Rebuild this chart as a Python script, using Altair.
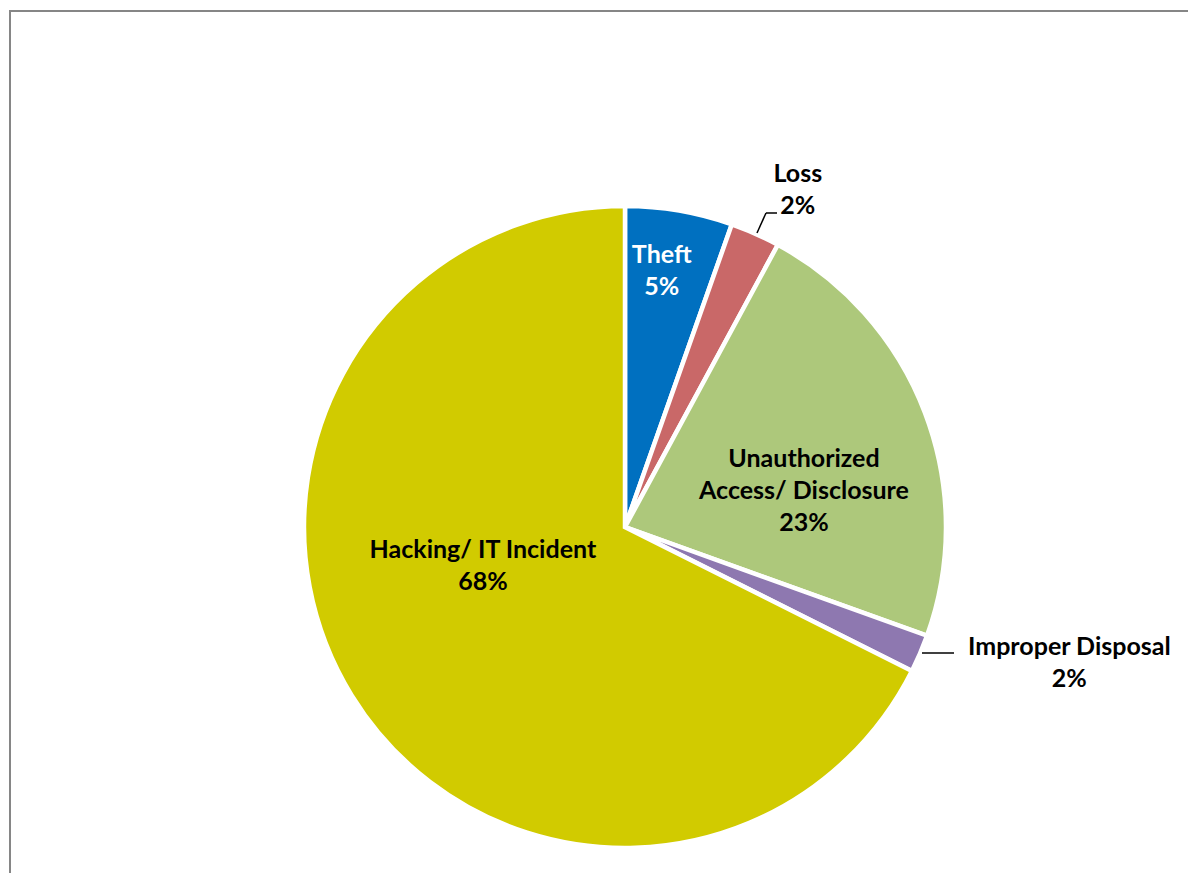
import altair as alt
import pandas as pd

categories = ["Theft", "Loss", "Unauthorized Access/ Disclosure", "Improper Disposal", "Hacking/ IT Incident"]
values = [5.4, 2.5, 22.6, 1.9, 67.6]
labels = ["Theft\n5%", "Loss\n2%", "Unauthorized\nAccess/ Disclosure\n23%", "Improper Disposal\n2%", "Hacking/ IT Incident\n68%"]
colors = ["#0070C0", "#C96868", "#ADC87B", "#8E78B0", "#D1CB00"]
label_colors = ["white", "black", "black", "black", "black"]

df = pd.DataFrame({
    "category": categories,
    "value": values,
    "label": labels,
    "idx": list(range(len(categories))),
})

W, H = 1180, 865
CX, CY = 617, 519
FONT = "Lato"

theta_scale = alt.Scale(domain=[0, 100])

pie = alt.Chart(df).mark_arc(outerRadius=321, stroke="white", strokeWidth=4.5).encode(
    theta=alt.Theta("value:Q", stack=True, scale=theta_scale),
    color=alt.Color("category:N", scale=alt.Scale(domain=categories, range=colors), legend=None),
    order=alt.Order("idx:Q"),
    x=alt.value(CX),
    y=alt.value(CY),
)

base_text = alt.Chart(df).transform_window(
    cum="sum(value)", sort=[alt.SortField("idx")]
).transform_calculate(
    mid="datum.cum - datum.value / 2"
)

# per-label placement: (radius, dx, dy)
placements = {
    "Theft": (259, -7, -17),
    "Loss": (379, 19, -7),
    "Unauthorized Access/ Disclosure": (183, 8, -3),
    "Improper Disposal": (465, 17, -63),
    "Hacking/ IT Incident": (147, -17, -54),
}

text_layers = []
for cat, col in zip(categories, label_colors):
    r, dx, dy = placements[cat]
    t = base_text.transform_filter(alt.datum.category == cat).mark_text(
        radius=r, dx=dx, dy=dy, font=FONT, fontSize=25, fontWeight="bold",
        lineBreak="\n", lineHeight=32, align="center", baseline="middle", color=col,
    ).encode(
        theta=alt.Theta("mid:Q", stack=None, scale=theta_scale),
        text="label:N",
        x=alt.value(CX),
        y=alt.value(CY),
    )
    text_layers.append(t)

one = pd.DataFrame({"a": [0]})

def rule(x, x2, y, y2, color="black", w=1.5):
    return alt.Chart(one).mark_rule(color=color, strokeWidth=w).encode(
        x=alt.value(x), x2=alt.value(x2), y=alt.value(y), y2=alt.value(y2)
    )

leaders = [
    rule(758, 769, 205, 205),
    rule(758, 749, 205, 225),
    rule(914, 946, 645, 645),
]

frame = [
    rule(2, 2, 2, H, color="#868686", w=2),
    rule(1, W, 3, 3, color="#868686", w=2),
]

chart = alt.layer(pie, *text_layers, *leaders, *frame).properties(
    width=W, height=H, autosize="none", padding=0
).configure_view(stroke=None)

chart.save("out.html", embed_options={"renderer": "svg", "actions": False})
